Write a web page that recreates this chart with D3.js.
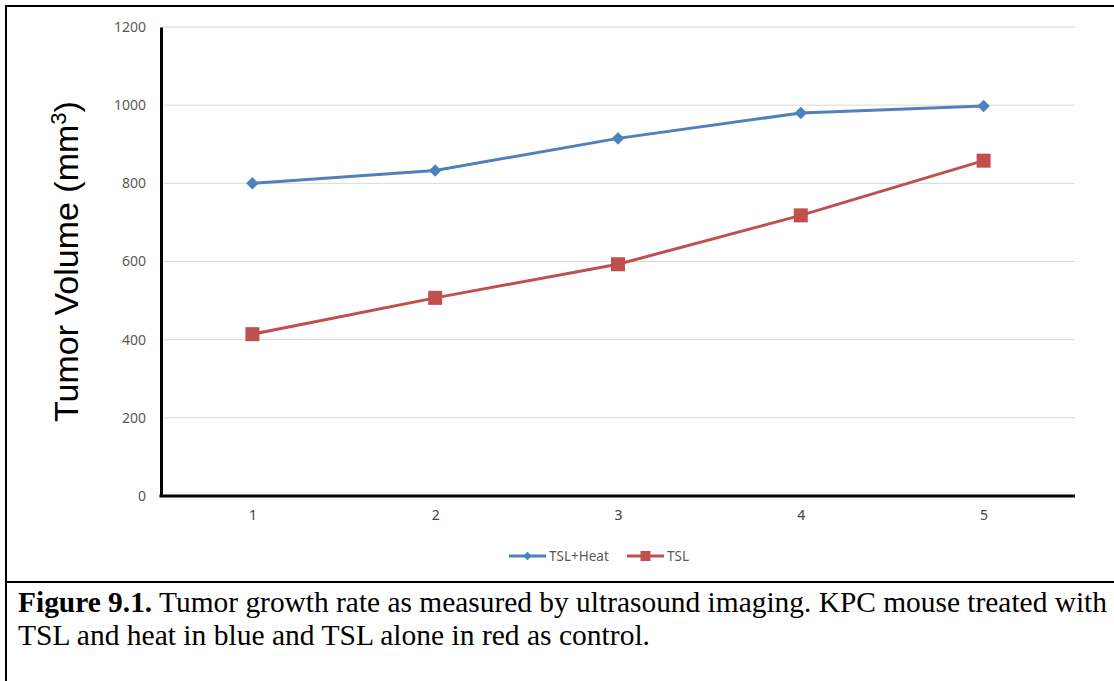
<!DOCTYPE html>
<html>
<head>
<meta charset="utf-8">
<script src="https://cdn.jsdelivr.net/npm/d3@7"></script>
<style>
  body { margin: 0; background: #fff; }
  svg { display: block; }
</style>
</head>
<body>
<svg></svg>
<script>
// Chart data
const days = [1, 2, 3, 4, 5];
const tslHeat = [800, 833, 915, 980, 998];
const tsl = [414, 507, 593, 718, 858];
const yTicks = [0, 200, 400, 600, 800, 1000, 1200];
const seriesNames = ["TSL+Heat", "TSL"];

const W = 1114, H = 681;
const svg = d3.select("svg").attr("width", W).attr("height", H);

// Frame around figure and caption
svg.append("line").attr("x1", 5).attr("x2", W).attr("y1", 6).attr("y2", 6)
  .attr("stroke", "#000").attr("stroke-width", 2);
svg.append("line").attr("x1", 6).attr("x2", 6).attr("y1", 5).attr("y2", H)
  .attr("stroke", "#000").attr("stroke-width", 2);
svg.append("line").attr("x1", 5).attr("x2", W).attr("y1", 582).attr("y2", 582)
  .attr("stroke", "#000").attr("stroke-width", 2);

const plotLeft = 161, plotRight = 1075, plotTop = 27, plotBottom = 496;

const x = d3.scalePoint().domain(days).range([plotLeft, plotRight]).padding(0.5);
const y = d3.scaleLinear().domain([0, 1200]).range([plotBottom, plotTop]);

// Gridlines
svg.append("g")
  .selectAll("line")
  .data(yTicks.filter(d => d > 0))
  .enter()
  .append("line")
  .attr("x1", plotLeft).attr("x2", plotRight)
  .attr("y1", d => y(d)).attr("y2", d => y(d))
  .attr("stroke", "#d9d9d9").attr("stroke-width", 1);

// Y axis
const yAxis = svg.append("g")
  .attr("transform", `translate(${plotLeft},0)`)
  .call(d3.axisLeft(y).tickValues(yTicks).tickFormat(d3.format("d")).tickSize(0).tickPadding(15));
yAxis.select(".domain").attr("stroke", "#000").attr("stroke-width", 3);
yAxis.selectAll("text")
  .style("font-family", "'Noto Sans', sans-serif")
  .style("font-size", "14px")
  .style("fill", "#595959");

// X axis
const xAxis = svg.append("g")
  .attr("transform", `translate(0,${plotBottom})`)
  .call(d3.axisBottom(x).tickSize(0).tickPadding(14));
xAxis.select(".domain").attr("stroke", "#000").attr("stroke-width", 3)
  .attr("d", `M${plotLeft - 1.5},0H${plotRight}`);
xAxis.selectAll("text")
  .style("font-family", "'Noto Sans', sans-serif")
  .style("font-size", "14px")
  .style("fill", "#404040");

// Y axis title
const title = svg.append("text")
  .attr("transform", `translate(78,${(plotTop + plotBottom) / 2}) rotate(-90)`)
  .attr("text-anchor", "middle")
  .style("font-family", "'Liberation Sans', Arial, sans-serif")
  .style("font-size", "34px")
  .style("fill", "#000");
title.append("tspan").text("Tumor Volume (mm");
title.append("tspan").attr("baseline-shift", "super").style("font-size", "22px").text("3");
title.append("tspan").text(")");

// Lines
const line = d3.line().x((d, i) => x(days[i])).y(d => y(d));
const colors = ["#4f81bd", "#c0504d"];

svg.append("path").datum(tslHeat).attr("d", line)
  .attr("fill", "none").attr("stroke", colors[0]).attr("stroke-width", 3);
svg.append("path").datum(tsl).attr("d", line)
  .attr("fill", "none").attr("stroke", colors[1]).attr("stroke-width", 3);

// Markers: diamonds for TSL+Heat, squares for TSL
svg.append("g").selectAll("path")
  .data(tslHeat).enter().append("path")
  .attr("transform", (d, i) => `translate(${x(days[i])},${y(d)}) rotate(45)`)
  .attr("d", d3.symbol().type(d3.symbolSquare2).size(100))
  .attr("fill", colors[0]);

svg.append("g").selectAll("rect")
  .data(tsl).enter().append("rect")
  .attr("x", (d, i) => x(days[i]) - 7)
  .attr("y", d => y(d) - 7)
  .attr("width", 14).attr("height", 14)
  .attr("fill", colors[1]);

// Legend
const legend = svg.append("g").attr("transform", "translate(509,556)");
const legX = [0, 118];
seriesNames.forEach((name, i) => {
  const g = legend.append("g").attr("transform", `translate(${legX[i]},0)`);
  g.append("line").attr("x1", 0).attr("x2", 37).attr("y1", 0).attr("y2", 0)
    .attr("stroke", colors[i]).attr("stroke-width", 3);
  if (i === 0) {
    g.append("path").attr("transform", "translate(18.5,0) rotate(45)")
      .attr("d", d3.symbol().type(d3.symbolSquare2).size(45))
      .attr("fill", colors[i]);
  } else {
    g.append("rect").attr("x", 13.5).attr("y", -5).attr("width", 10).attr("height", 10)
      .attr("fill", colors[i]);
  }
  g.append("text").attr("x", 40).attr("y", 5)
    .style("font-family", "'Noto Sans', sans-serif")
    .style("font-size", "13.5px")
    .style("fill", "#595959")
    .text(name);
});

// Caption
const capFont = "'Liberation Serif', 'Times New Roman', serif";
const cap1 = svg.append("text").attr("x", 18).attr("y", 612)
  .attr("textLength", 1089).attr("lengthAdjust", "spacingAndGlyphs")
  .style("font-family", capFont)
  .style("font-size", "29px").style("fill", "#000");
cap1.append("tspan").style("font-weight", "bold").text("Figure 9.1.");
cap1.append("tspan").text(" Tumor growth rate as measured by ultrasound imaging. KPC mouse treated with");
svg.append("text").attr("x", 18).attr("y", 645)
  .attr("textLength", 632).attr("lengthAdjust", "spacingAndGlyphs")
  .style("font-family", capFont)
  .style("font-size", "29px").style("fill", "#000")
  .text("TSL and heat in blue and TSL alone in red as control.");
</script>
</body>
</html>
